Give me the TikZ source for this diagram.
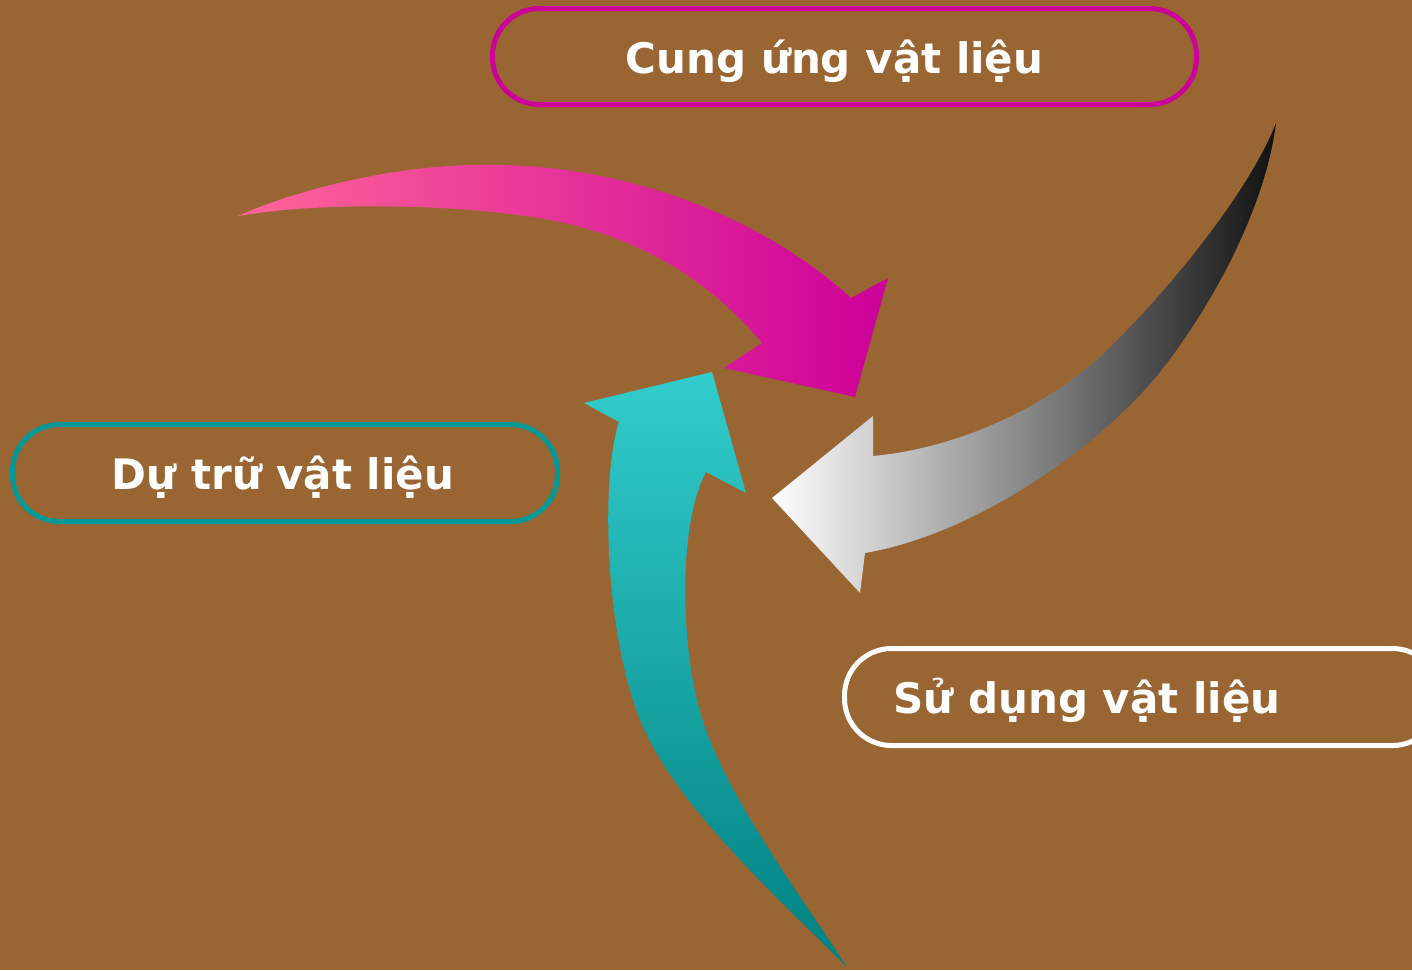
\documentclass[tikz,border=0pt]{standalone}
\usepackage{fontspec}
\setmainfont{DejaVu Sans}

\definecolor{bgbrown}{HTML}{996633}
\definecolor{magentab}{HTML}{CC0099}
\definecolor{pinkl}{HTML}{FF6699}
\definecolor{tealb}{HTML}{009999}
\definecolor{teall}{HTML}{33CCCC}
\definecolor{teald}{HTML}{008080}
\definecolor{greyd}{HTML}{111111}

\begin{document}
\begin{tikzpicture}[x=1pt, y=-1pt,
		pill/.style={draw=#1, line width=5pt, rounded corners=47pt, inner sep=0pt, minimum height=97pt},
		lbl/.style={anchor=base, text=white, font=\fontsize{42}{50}\selectfont\bfseries}]
				\useasboundingbox (0,0) rectangle (1412,970);
				\fill[bgbrown] (0,0) rectangle (1412,970);
				\clip (0,0) rectangle (1412,970);
				% boxes
				\node[pill=magentab, minimum width=704pt, minimum height=96pt] (cung) at (844.5,56.5) {};
				\node[pill=tealb, minimum width=545pt] (dutru) at (285,473) {};
				\node[pill=white, minimum width=595pt] (sudung) at (1142,697) {};
				\node[lbl] (cungt) at (834.5,73) {Cung ứng vật liệu};
				\node[lbl] (dutrut) at (283,489) {Dự trữ vật liệu};
				\node[lbl] (sudungt) at (1087,713) {Sử dụng vật liệu};
				% arrows
				\shade[left color=pinkl, right color=magentab]
					(238,216) .. controls (300,188) and (400,165) .. (479,165)
					.. controls (620,162) and (760,215) .. (851,298)
					-- (888,278) -- (855,397) -- (724,368) -- (762,343)
					.. controls (705,275) and (635,238) .. (560,222)
					.. controls (480,205) and (330,200) .. (238,216) -- cycle;
				\shade[left color=white, right color=greyd]
					(873,456) .. controls (960,448) and (1050,405) .. (1104,353)
					.. controls (1170,290) and (1250,190) .. (1276,123)
					.. controls (1265,210) and (1210,310) .. (1156,377)
					.. controls (1090,455) and (970,535) .. (865,553)
					-- (860,593) -- (772,498) -- (873,416) -- cycle;
				\shade[top color=teall, bottom color=teald]
					(712,372) -- (746,493) -- (706,472)
					.. controls (680,520) and (680,630) .. (697,700)
					.. controls (715,780) and (790,880) .. (847,967)
					.. controls (780,900) and (680,810) .. (643,727)
					.. controls (605,640) and (600,480) .. (619,422)
					-- (584,403) -- cycle;
			\end{tikzpicture}
\end{document}
